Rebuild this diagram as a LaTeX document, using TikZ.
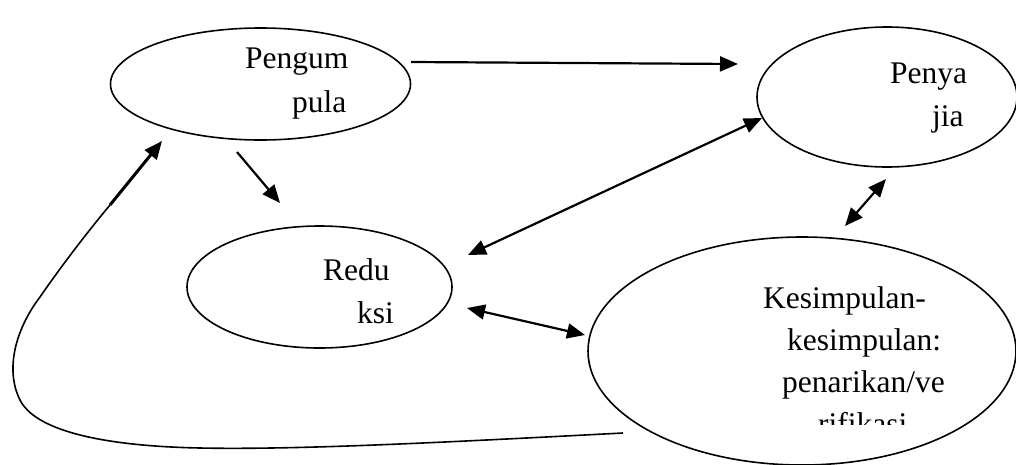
\documentclass[tikz,border=0pt]{standalone}
\usepackage{fontspec}
\setmainfont{Liberation Serif}
\usetikzlibrary{shapes.geometric,arrows.meta}
\begin{document}
\begin{tikzpicture}[x=1pt,y=-1pt,
  oval/.style={draw,ellipse,line width=1.6pt,inner sep=0pt},
  lbl/.style={anchor=base west,inner sep=0pt,font=\fontsize{31.5}{42}\selectfont},
  tip/.tip={Triangle[length=18pt,width=15pt]},
  conn/.style={line width=2.2pt,-tip},
  conn2/.style={line width=2.2pt,tip-tip}]
\useasboundingbox (0,0) rectangle (1016,464);

% ovals
\node[oval,minimum width=300pt,minimum height=112pt] (pengumpulan) at (260.5,84) {};
\node[oval,minimum width=260pt,minimum height=140pt] (penyajian) at (887,97) {};
\node[oval,minimum width=265pt,minimum height=122pt] (reduksi) at (319.5,287) {};
\node[oval,minimum width=428pt,minimum height=228pt] (kesimpulan) at (802,351) {};

% labels
\node[lbl] (t1a) at (245,68) {Pengum};
\node[lbl] (t1b) at (292,112) {pula};
\node[lbl] (t2a) at (890,83) {Penya};
\node[lbl] (t2b) at (932,126) {jia};
\node[lbl] (t3a) at (323,280) {Redu};
\node[lbl] (t3b) at (357,323) {ksi};
\node[lbl] (t4a) at (763,308) {Kesimpulan-};
\node[lbl] (t4b) at (787,350) {kesimpulan:};
\node[lbl] (t4c) at (782,392) {penarikan/ve};
\begin{scope}
  \clip (700,400) rectangle (1000,424);
  \node[lbl] (t4d) at (818,434) {rifikasi};
\end{scope}

% connector end points
\coordinate (a1s) at (411,62);
\coordinate (a1e) at (738,64);
\coordinate (a2s) at (237,152);
\coordinate (a2e) at (280,203);
\coordinate (a3s) at (468,255);
\coordinate (a3e) at (762,118);
\coordinate (a4s) at (467,308);
\coordinate (a4e) at (585,335);
\coordinate (a5s) at (845,226);
\coordinate (a5e) at (886,179);
\coordinate (fb0) at (623,433);
\coordinate (fb1) at (110,205);
\coordinate (fb2) at (162,141);

% connectors
\draw[conn] (a1s) -- (a1e);
\draw[conn] (a2s) -- (a2e);
\draw[conn2] (a3s) -- (a3e);
\draw[conn2] (a4s) -- (a4e);
\draw[conn2] (a5s) -- (a5e);

% feedback loop back to the first stage
\draw[line width=1.6pt] (fb0) .. controls (450,442) and (300,450) .. (200,448)
  .. controls (100,446) and (35,430) .. (20,400)
  .. controls (5,370) and (15,330) .. (40,297)
  .. controls (60,268) and (85,235) .. (fb1);
\draw[conn,line width=3pt] (fb1) -- (fb2);
\end{tikzpicture}
\end{document}
